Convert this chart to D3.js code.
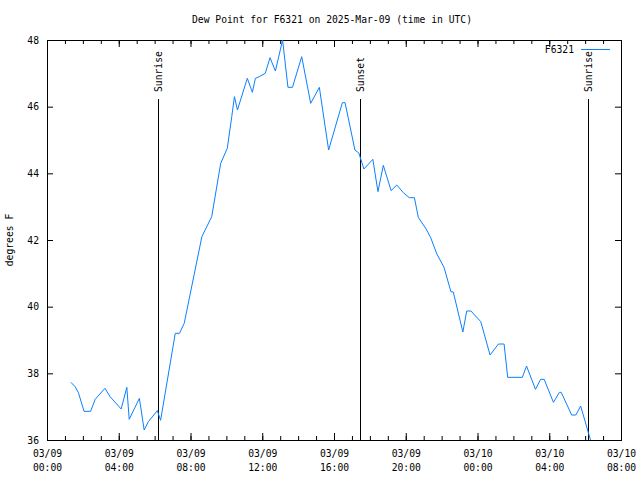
<!DOCTYPE html>
<html lang="en">
<head>
<meta charset="utf-8">
<title>Dew Point for F6321</title>
<script src="https://d3js.org/d3.v7.min.js"></script>
<style>
  body { margin: 0; background: #fff; }
  text { font-family: "DejaVu Sans Mono", "Liberation Mono", monospace; font-size: 9.7px; fill: #000; }
</style>
</head>
<body>
<svg width="640" height="480"></svg>
<script>
const times = [
  "2025-03-09T01:20Z","2025-03-09T01:34Z","2025-03-09T01:45Z","2025-03-09T02:04Z","2025-03-09T02:26Z",
  "2025-03-09T02:41Z","2025-03-09T03:14Z","2025-03-09T03:31Z","2025-03-09T04:08Z","2025-03-09T04:27Z",
  "2025-03-09T04:35Z","2025-03-09T05:09Z","2025-03-09T05:25Z","2025-03-09T05:39Z","2025-03-09T06:09Z",
  "2025-03-09T06:20Z","2025-03-09T07:09Z","2025-03-09T07:23Z","2025-03-09T07:39Z","2025-03-09T08:38Z",
  "2025-03-09T09:11Z","2025-03-09T09:41Z","2025-03-09T10:03Z","2025-03-09T10:18Z","2025-03-09T10:27Z",
  "2025-03-09T10:37Z","2025-03-09T11:10Z","2025-03-09T11:27Z","2025-03-09T11:37Z","2025-03-09T11:50Z",
  "2025-03-09T12:10Z","2025-03-09T12:26Z","2025-03-09T12:44Z","2025-03-09T13:08Z","2025-03-09T13:26Z",
  "2025-03-09T13:41Z","2025-03-09T14:12Z","2025-03-09T14:42Z","2025-03-09T15:11Z","2025-03-09T15:42Z",
  "2025-03-09T16:28Z","2025-03-09T16:37Z","2025-03-09T17:10Z","2025-03-09T17:23Z","2025-03-09T17:40Z",
  "2025-03-09T18:10Z","2025-03-09T18:27Z","2025-03-09T18:45Z","2025-03-09T19:11Z","2025-03-09T19:30Z",
  "2025-03-09T19:52Z","2025-03-09T20:12Z","2025-03-09T20:29Z","2025-03-09T20:42Z","2025-03-09T21:08Z",
  "2025-03-09T21:23Z","2025-03-09T21:44Z","2025-03-09T22:08Z","2025-03-09T22:31Z","2025-03-09T22:39Z",
  "2025-03-09T23:11Z","2025-03-09T23:24Z","2025-03-09T23:38Z","2025-03-10T00:11Z","2025-03-10T00:42Z",
  "2025-03-10T01:10Z","2025-03-10T01:29Z","2025-03-10T01:41Z","2025-03-10T02:30Z","2025-03-10T02:44Z",
  "2025-03-10T03:14Z","2025-03-10T03:31Z","2025-03-10T03:43Z","2025-03-10T04:14Z","2025-03-10T04:34Z",
  "2025-03-10T04:40Z","2025-03-10T05:15Z","2025-03-10T05:29Z","2025-03-10T05:45Z","2025-03-10T06:18Z"
];
const dewpoint = [
  37.73, 37.60, 37.42, 36.86, 36.86, 37.22, 37.55, 37.30, 36.93, 37.58,
  36.62, 37.25, 36.30, 36.55, 36.88, 36.59, 39.20, 39.20, 39.50, 42.10,
  42.70, 44.30, 44.75, 45.70, 46.30, 45.90, 46.85, 46.43, 46.85, 46.90,
  47.00, 47.47, 47.07, 48.00, 46.58, 46.58, 47.50, 46.10, 46.58, 44.70,
  46.12, 46.12, 44.70, 44.61, 44.13, 44.42, 43.45, 44.24, 43.48, 43.65,
  43.42, 43.27, 43.27, 42.68, 42.33, 42.08, 41.58, 41.18, 40.45, 40.44,
  39.24, 39.87, 39.87, 39.55, 38.55, 38.88, 38.88, 37.88, 37.88, 38.22,
  37.52, 37.82, 37.82, 37.13, 37.43, 37.43, 36.75, 36.75, 37.02, 36.00
];

// sun events
const sunEvents = ["Sunrise", "Sunset", "Sunrise"];
const sunTimes = ["2025-03-09T06:12Z", "2025-03-09T17:28Z", "2025-03-10T06:10Z"];

// axes
const xDomain = ["2025-03-09T00:00Z", "2025-03-10T08:00Z"];
const yTicks = [36, 38, 40, 42, 44, 46, 48];

const seriesName = "F6321";
const title = "Dew Point for F6321 on 2025-Mar-09 (time in UTC)";
const yLabel = "degrees F";

const svg = d3.select("svg");
const plotL = 47, plotR = 621, plotT = 40, plotB = 440;
const lineColor = "#0a80ff";

const x = d3.scaleUtc().domain(xDomain.map(d => new Date(d))).range([plotL, plotR]);
const y = d3.scaleLinear().domain([36, 48]).range([plotB, plotT]);

const data = times.map((t, i) => ({ t: new Date(t), v: dewpoint[i] }));

const majorTicks = d3.utcHour.every(4).range(x.domain()[0], d3.utcMinute.offset(x.domain()[1], 1));
const minorTicks = d3.utcHour.every(1).range(x.domain()[0], d3.utcMinute.offset(x.domain()[1], 1));

// minor x ticks (top and bottom, pointing inwards)
svg.append("g").attr("transform", `translate(0,${plotB})`)
  .call(d3.axisBottom(x).tickValues(minorTicks).tickSize(-4).tickFormat(""))
  .call(g => g.select(".domain").remove());
svg.append("g").attr("transform", `translate(0,${plotT})`)
  .call(d3.axisTop(x).tickValues(minorTicks).tickSize(-4).tickFormat(""))
  .call(g => g.select(".domain").remove());

// major x ticks with two-line labels
const fmtDate = d3.utcFormat("%m/%d"), fmtTime = d3.utcFormat("%H:%M");
const xAxis = svg.append("g").attr("transform", `translate(0,${plotB})`)
  .call(d3.axisBottom(x).tickValues(majorTicks).tickSize(-7).tickPadding(10).tickFormat(""))
  .call(g => g.select(".domain").remove());
xAxis.selectAll(".tick text")
  .attr("fill", null)
  .each(function(d) {
    const t = d3.select(this);
    t.append("tspan").attr("x", 0).text(fmtDate(d));
    t.append("tspan").attr("x", 0).attr("dy", 14).text(fmtTime(d));
  });
svg.append("g").attr("transform", `translate(0,${plotT})`)
  .call(d3.axisTop(x).tickValues(majorTicks).tickSize(-7).tickFormat(""))
  .call(g => g.select(".domain").remove());

// y ticks left and right
svg.append("g").attr("transform", `translate(${plotL},0)`)
  .call(d3.axisLeft(y).tickValues(yTicks).tickSize(-6).tickPadding(8).tickFormat(d3.format("d")))
  .call(g => g.select(".domain").remove())
  .call(g => g.selectAll("text").attr("fill", null));
svg.append("g").attr("transform", `translate(${plotR},0)`)
  .call(d3.axisRight(y).tickValues(yTicks).tickSize(-6).tickFormat(""))
  .call(g => g.select(".domain").remove());

svg.selectAll(".tick line").attr("stroke", "#000");
svg.selectAll("g").attr("font-family", null).attr("font-size", null);

// frame
svg.append("rect")
  .attr("x", plotL + 0.5).attr("y", plotT + 0.5)
  .attr("width", plotR - plotL).attr("height", plotB - plotT)
  .attr("fill", "none").attr("stroke", "#000");

// sun lines
const sun = svg.append("g");
sunTimes.forEach((s, i) => {
  const sx = Math.round(x(new Date(s))) + 0.5;
  sun.append("line")
    .attr("x1", sx).attr("x2", sx).attr("y1", 99).attr("y2", plotB)
    .attr("stroke", "#000");
  sun.append("text")
    .attr("transform", `translate(${sx},92) rotate(-90)`)
    .attr("dy", "0.35em")
    .text(sunEvents[i]);
});

// data line
const line = d3.line().x(d => x(d.t)).y(d => y(d.v));
svg.append("path")
  .datum(data)
  .attr("d", line)
  .attr("fill", "none")
  .attr("stroke", lineColor)
  .attr("stroke-width", 1);

// title
svg.append("text")
  .attr("x", 332).attr("y", 23)
  .attr("text-anchor", "middle")
  .text(title);

// y label
svg.append("text")
  .attr("transform", "translate(13,240) rotate(-90)")
  .attr("text-anchor", "middle")
  .text(yLabel);

// legend
svg.append("text")
  .attr("x", 574).attr("y", 52.5)
  .attr("text-anchor", "end")
  .text(seriesName);
svg.append("line")
  .attr("x1", 581).attr("x2", 610).attr("y1", 49.5).attr("y2", 49.5)
  .attr("stroke", lineColor);
</script>
</body>
</html>
